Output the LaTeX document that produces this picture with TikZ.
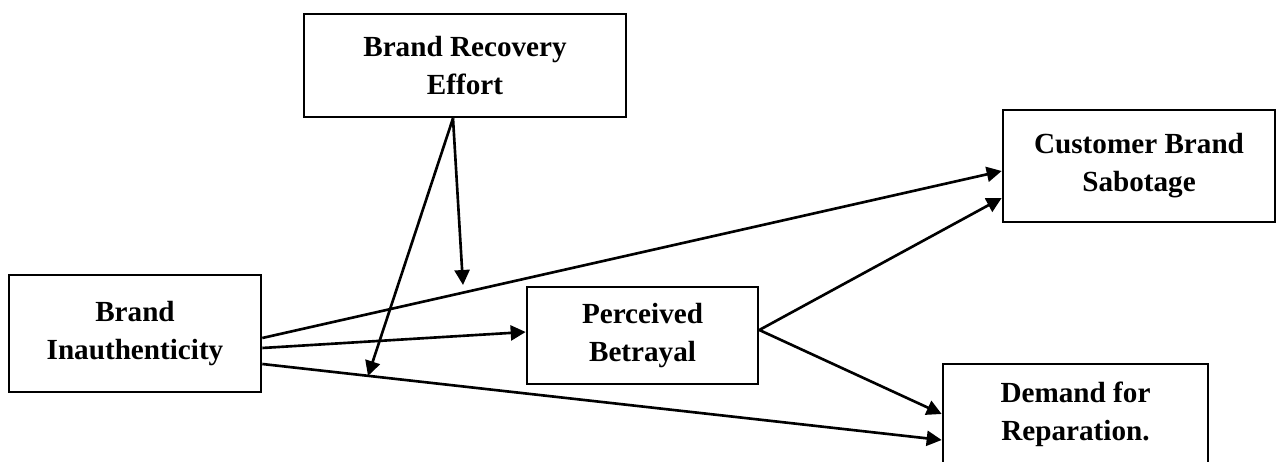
\documentclass[tikz,border=0pt]{standalone}
\usepackage{fontspec}
\setmainfont{Liberation Serif}
\usetikzlibrary{arrows.meta,calc}
\tikzset{b/.style={draw,line width=1.5pt,font=\bfseries\fontsize{16.6}{21.6}\selectfont,align=center,inner sep=0pt},
 ar/.style={line width=1.5pt,-{Triangle[length=3mm,width=3mm]}}}

\begin{document}
\begin{tikzpicture}
	\useasboundingbox (0,0) rectangle (25.58,9.24);
	\clip (0,0) rectangle (25.58,9.24);
	% boxes
	\node[b,minimum width=6.44cm,minimum height=2.06cm] (rec) at (9.30,7.93) {Brand Recovery\\Effort};
	\node[b,minimum width=5.44cm,minimum height=2.24cm] (sab) at (22.78,5.92) {Customer Brand\\Sabotage};
	\node[b,minimum width=5.04cm,minimum height=2.34cm] (ina) at (2.70,2.57) {Brand\\Inauthenticity};
	\node[b,minimum width=4.62cm,minimum height=1.94cm] (bet) at (12.85,2.53) {Perceived\\Betrayal};
	\node[b,minimum width=5.30cm,minimum height=2.00cm] (rep) at (21.51,0.96) {Demand for\\Reparation.};
	\path ([xshift=-0.24cm]rec.south) coordinate (R)
	      (9.26,3.54) coordinate (M1)
	      (7.36,1.72) coordinate (M2);
	% paths
	\draw[ar] ([yshift=-0.09cm]ina.east) -- ([yshift=-0.1cm]sab.west);
	\draw[ar] ([yshift=-0.29cm]ina.east) -- ([yshift=0.07cm]bet.west);
	\draw[ar] ([yshift=-0.61cm]ina.east) -- ([yshift=-0.52cm]rep.west);
	\draw[ar] ([yshift=0.11cm]bet.east) -- ([yshift=-0.64cm]sab.west);
	\draw[ar] ([yshift=0.11cm]bet.east) -- (rep.west);
	% moderation
	\draw[ar] (R) -- (M1);
	\draw[ar] (R) -- (M2);
\end{tikzpicture}
\end{document}
